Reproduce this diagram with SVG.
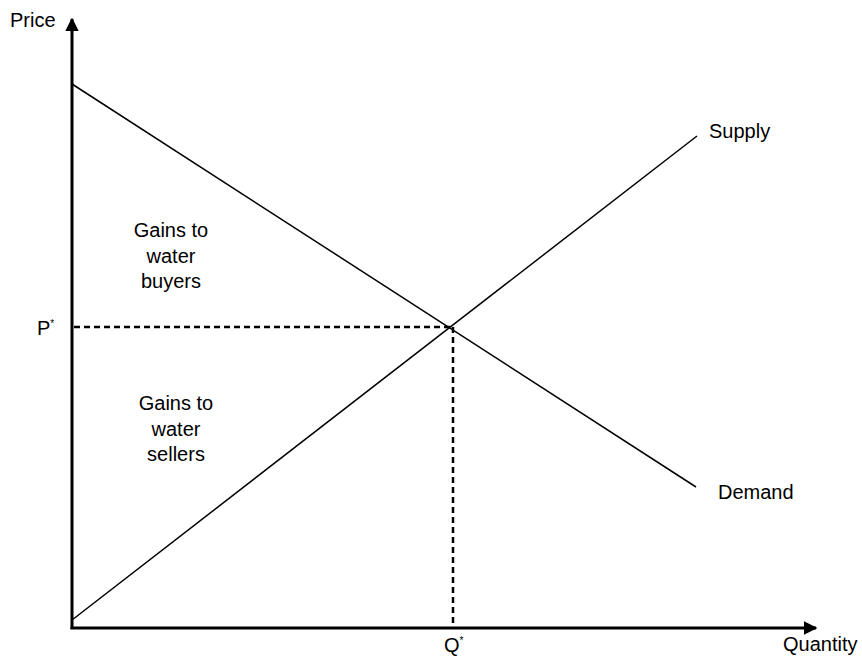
<svg xmlns="http://www.w3.org/2000/svg" width="862" height="660" viewBox="0 0 862 660">
<defs>
<style>
text{font-family:"Liberation Sans",Arial,sans-serif;font-size:20px;fill:#000}
.axis{stroke:#000;stroke-width:3;fill:none}
.curve{stroke:#000;stroke-width:1.5;fill:none}
.dash{stroke:#000;stroke-width:2.5;stroke-dasharray:6 4;fill:none}
.c{text-anchor:middle}
</style>
<marker id="ah" viewBox="0 0 10 10" refX="9" refY="5" markerWidth="4.5" markerHeight="4.5" orient="auto" markerUnits="strokeWidth">
<path d="M0,0 L10,5 L0,10 z" fill="#000"/>
</marker>
</defs>
<rect width="862" height="660" fill="#fff"/>
<g id="axes">
<line class="axis" x1="72" y1="629" x2="72" y2="19" marker-end="url(#ah)"/>
<line class="axis" x1="70.5" y1="628" x2="816" y2="628" marker-end="url(#ah)"/>
</g>
<g id="connectors">
<line class="curve" x1="72" y1="84" x2="696" y2="487"/>
<line class="curve" x1="72" y1="620" x2="697" y2="136"/>
<line class="dash" x1="74" y1="327" x2="453" y2="327"/>
<line class="dash" x1="453" y1="327" x2="453" y2="627"/>
</g>
<g id="labels">
<text x="10" y="27">Price</text>
<text x="783" y="651">Quantity</text>
<text x="709" y="138">Supply</text>
<text x="718" y="499">Demand</text>
<text x="37" y="335">P<tspan dy="-8" font-size="10">*</tspan></text>
<text x="444" y="652">Q<tspan dy="-8" font-size="10">*</tspan></text>
</g>
<g id="buyers">
<text class="c" x="171" y="237">Gains to</text>
<text class="c" x="171" y="263">water</text>
<text class="c" x="171" y="288">buyers</text>
</g>
<g id="sellers">
<text class="c" x="176" y="410">Gains to</text>
<text class="c" x="176" y="436">water</text>
<text class="c" x="176" y="461">sellers</text>
</g>
</svg>
